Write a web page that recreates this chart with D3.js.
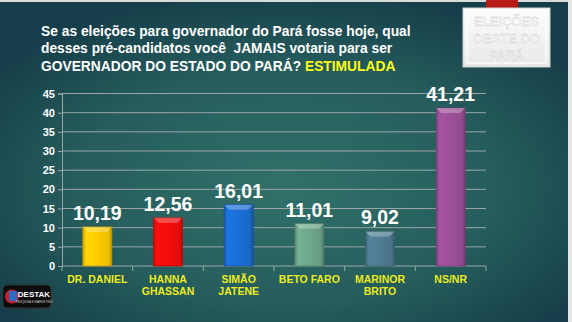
<!DOCTYPE html>
<html>
<head>
<meta charset="utf-8">
<script src="https://cdn.jsdelivr.net/npm/d3@7"></script>
<style>
  html, body { margin: 0; padding: 0; background: #123a45; }
  svg { display: block; }
</style>
</head>
<body>
<svg id="chart" width="572" height="322"></svg>
<script>
// Poll data
const categories = [["DR. DANIEL"], ["HANNA", "GHASSAN"], ["SIMÃO", "JATENE"], ["BETO FARO"], ["MARINOR", "BRITO"], ["NS/NR"]];
const values = [10.19, 12.56, 16.01, 11.01, 9.02, 41.21];
const barColors = ["#ffcc00", "#f50c0c", "#1b6fd6", "#6fa88c", "#4f7d93", "#9c5198"];
const yTicks = [0, 5, 10, 15, 20, 25, 30, 35, 40, 45];
const titleLines = [
  [{ t: "Se as eleições para governador do Pará fosse hoje, qual", c: "#ffffff" }],
  [{ t: "desses pré-candidatos você  JAMAIS votaria para ser", c: "#ffffff" }],
  [{ t: "GOVERNADOR DO ESTADO DO PARÁ? ", c: "#ffffff" }, { t: "ESTIMULADA", c: "#ffff1a" }]
];

const W = 572, H = 322;
const svg = d3.select("#chart");
const defs = svg.append("defs");

// Background: teal radial glow
const bg = defs.append("radialGradient").attr("id", "bg")
  .attr("cx", "0.5").attr("cy", "0.58").attr("r", "0.62");
bg.append("stop").attr("offset", "0").attr("stop-color", "#31716a");
bg.append("stop").attr("offset", "0.6").attr("stop-color", "#255c5c");
bg.append("stop").attr("offset", "1").attr("stop-color", "#163e4a");
svg.append("rect").attr("width", W).attr("height", H).attr("fill", "url(#bg)");
svg.append("rect").attr("x", 0).attr("y", 0).attr("width", W).attr("height", 2).attr("fill", "#d8dcdc");
svg.append("rect").attr("x", 568).attr("y", 0).attr("width", 4).attr("height", H).attr("fill", "#e4e6e6");

// Title
const title = svg.append("text")
  .attr("font-family", "Liberation Sans, Arial, sans-serif")
  .attr("font-weight", "bold").attr("font-size", 13.8)
  .style("white-space", "pre");
titleLines.forEach((line, i) => {
  const row = title.append("tspan").attr("x", 41).attr("y", 36 + i * 17.3);
  line.forEach((seg, j) => {
    const s = j === 0 ? row : title.append("tspan");
    s.text(seg.t).attr("fill", seg.c);
  });
});

// Scales
const x = d3.scaleBand().domain(d3.range(values.length)).range([62, 486]).paddingInner(0.59).paddingOuter(0.295);
const xTicks = d3.scaleBand().domain(d3.range(values.length)).range([62, 486]);
const y = d3.scaleLinear().domain([0, 45]).range([266, 93.5]);

// Gridlines
svg.append("g").selectAll("line").data(yTicks.filter(d => d > 0)).join("line")
  .attr("x1", 62).attr("x2", 486).attr("y1", d => y(d)).attr("y2", d => y(d))
  .attr("stroke", "#9aa6a6").attr("stroke-width", 1);

// Y axis
const yAxis = svg.append("g").attr("transform", "translate(62,0)")
  .call(d3.axisLeft(y).tickValues(yTicks).tickSize(4).tickPadding(3));
yAxis.select(".domain").attr("stroke", "#9aa6a6");
yAxis.selectAll(".tick line").attr("stroke", "#9aa6a6");
yAxis.selectAll(".tick text").attr("fill", "#ffffff")
  .attr("font-family", "Liberation Sans, Arial, sans-serif")
  .attr("font-weight", "bold").attr("font-size", 11);

// X axis baseline with category separators
const xg = svg.append("g");
xg.append("line").attr("x1", 62).attr("x2", 486).attr("y1", y(0)).attr("y2", y(0)).attr("stroke", "#9aa6a6");
xg.selectAll("line.sep").data(d3.range(values.length + 1)).join("line").attr("class", "sep")
  .attr("x1", i => 62 + i * xTicks.step()).attr("x2", i => 62 + i * xTicks.step())
  .attr("y1", y(0)).attr("y2", y(0) + 5).attr("stroke", "#9aa6a6");

// Bar gradients (bevelled look)
barColors.forEach((c, i) => {
  const g = defs.append("linearGradient").attr("id", "bar" + i).attr("x1", 0).attr("x2", 1);
  const col = d3.color(c);
  g.append("stop").attr("offset", 0).attr("stop-color", col.darker(0.5));
  g.append("stop").attr("offset", 0.12).attr("stop-color", col.brighter(0.15));
  g.append("stop").attr("offset", 0.5).attr("stop-color", c);
  g.append("stop").attr("offset", 0.88).attr("stop-color", col.darker(0.2));
  g.append("stop").attr("offset", 1).attr("stop-color", col.darker(0.8));
});

const bars = svg.append("g").selectAll("g").data(values).join("g");
bars.append("rect")
  .attr("x", (d, i) => x(i)).attr("y", d => y(d))
  .attr("width", x.bandwidth()).attr("height", d => y(0) - y(d))
  .attr("fill", (d, i) => "url(#bar" + i + ")")
  .attr("stroke", (d, i) => d3.color(barColors[i]).darker(0.9)).attr("stroke-width", 0.8);
// top bevel highlight
bars.append("path")
  .attr("d", (d, i) => {
    const x0 = x(i), x1 = x(i) + x.bandwidth(), t = y(d);
    return `M${x0},${t}L${x1},${t}L${x1 - 5},${t + 5}L${x0 + 5},${t + 5}Z`;
  })
  .attr("fill", "#ffffff").attr("opacity", 0.28);

// Value labels
bars.append("text")
  .attr("x", (d, i) => x(i) + x.bandwidth() / 2).attr("y", d => y(d) - 7)
  .attr("text-anchor", "middle").attr("fill", "#ffffff")
  .attr("font-family", "Liberation Sans, Arial, sans-serif")
  .attr("font-weight", "bold").attr("font-size", 19.5)
  .text(d => d3.format(".2f")(d).replace(".", ","));

// Category labels
const catG = svg.append("g");
categories.forEach((lines, i) => {
  const t = catG.append("text")
    .attr("text-anchor", "middle").attr("fill", "#ecec1e")
    .attr("font-family", "Liberation Sans, Arial, sans-serif")
    .attr("font-weight", "bold").attr("font-size", 10.5);
  lines.forEach((l, j) => t.append("tspan")
    .attr("x", xTicks(i) + xTicks.bandwidth() / 2).attr("y", 283 + j * 12).text(l));
});

// Badge top-right
svg.append("rect").attr("x", 486).attr("y", 0).attr("width", 32).attr("height", 9).attr("fill", "#b51a16");
const badge = defs.append("linearGradient").attr("id", "badge").attr("x1", 0).attr("y1", 0).attr("x2", 0).attr("y2", 1);
badge.append("stop").attr("offset", 0).attr("stop-color", "#fdfdfd");
badge.append("stop").attr("offset", 1).attr("stop-color", "#e8e8e8");
svg.append("rect").attr("x", 463).attr("y", 8).attr("width", 87).attr("height", 59)
  .attr("fill", "url(#badge)").attr("stroke", "#d0d0d0");
svg.append("rect").attr("x", 467).attr("y", 12).attr("width", 79).attr("height", 51)
  .attr("fill", "none").attr("stroke", "#ffffff").attr("stroke-width", 1.2);
["ELEIÇÕES", "OESTE DO", "PARÁ"].forEach((t, i) => {
  svg.append("text").attr("x", 506.5).attr("y", 26 + i * 17)
    .attr("text-anchor", "middle").attr("font-family", "Liberation Sans, Arial, sans-serif")
    .attr("font-size", 13).attr("fill", "#fbfbfb").attr("stroke", "#cdcdcd").attr("stroke-width", 0.35)
    .text(t);
});

// Bottom-left logo
svg.append("rect").attr("x", 3).attr("y", 285).attr("width", 48).attr("height", 23).attr("rx", 4)
  .attr("fill", "#0c0c0c").attr("stroke", "#333");
svg.append("circle").attr("cx", 12).attr("cy", 296.5).attr("r", 7).attr("fill", "#c8232a");
svg.append("rect").attr("x", 9).attr("y", 291).attr("width", 8).attr("height", 10).attr("fill", "#2f6bc4");
svg.append("text").attr("x", 34).attr("y", 297).attr("text-anchor", "middle")
  .attr("font-family", "Liberation Sans, Arial, sans-serif").attr("font-weight", "bold")
  .attr("font-size", 8).attr("fill", "#ffffff").text("DESTAK");
svg.append("text").attr("x", 34).attr("y", 303).attr("text-anchor", "middle")
  .attr("font-family", "Liberation Sans, Arial, sans-serif")
  .attr("font-size", 3).attr("fill", "#cccccc").text("PESQUISA E MARKETING");
</script>
</body>
</html>
